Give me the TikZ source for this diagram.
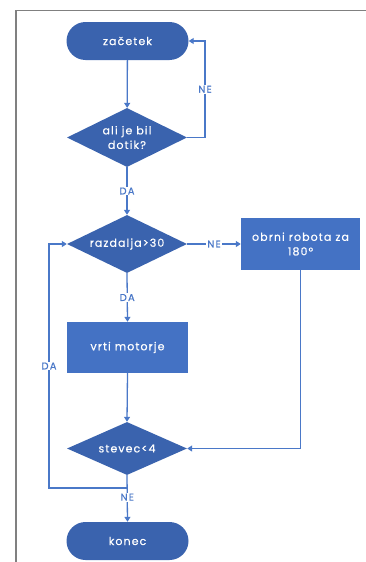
\documentclass[tikz,border=0pt]{standalone}
\usepackage{fontspec}
\setmainfont{Poppins}
\newfontfamily\nodefont{Poppins}[LetterSpace=10, FakeBold=0.4]
\newfontfamily\labfont{Poppins}[LetterSpace=12, FakeBold=0.3]
\usetikzlibrary{shapes.geometric,arrows.meta}
\definecolor{dblue}{HTML}{3A63AE}
\definecolor{lblue}{HTML}{4472C4}
\definecolor{lineblue}{HTML}{4A78C8}
\tikzset{
  term/.style={rectangle, rounded corners=19pt, fill=dblue, text=white, minimum width=122pt, minimum height=38pt, inner sep=0pt, font=\nodefont\fontsize{11}{13}\selectfont},
  dec/.style={diamond, aspect=2, fill=dblue, text=white, inner sep=0pt, align=center, font=\nodefont\fontsize{11}{14.5}\selectfont},
  proc/.style={rectangle, fill=lblue, text=white, inner sep=0pt, align=center, font=\nodefont\fontsize{11}{14.5}\selectfont},
  conn/.style={draw=lineblue, line width=1.3pt, -{Triangle[width=6pt,length=5pt]}},
  plain/.style={draw=lineblue, line width=1.3pt},
  lab/.style={fill=white, text=lineblue, inner sep=1pt, font=\labfont\fontsize{10}{11}\selectfont}
}
\begin{document}
\begin{tikzpicture}[x=1pt,y=-1pt]
\useasboundingbox (0,0) rectangle (366,562);
\draw[gray, line width=1.2pt] (16,562) -- (16,10.5) -- (366,10.5);

\node[term] (start) at (127.5,41) {začetek};
\node[dec, minimum width=120pt, minimum height=59pt] (d1) at (127,137.5) {ali je bil\\dotik?};
\node[dec, minimum width=120pt, minimum height=58pt] (d2) at (127,244) {razdalja>30};
\node[proc, minimum width=119pt, minimum height=52pt] (turn) at (300.5,244) {obrni robota za\\180°};
\node[proc, minimum width=121pt, minimum height=51pt] (motor) at (127.5,347.5) {vrti motorje};
\node[dec, minimum width=120pt, minimum height=53pt] (d3) at (127,448.5) {stevec<4};
\node[term] (end) at (127.5,541) {konec};

\coordinate (ne1) at (205,137.5);
\coordinate (split) at (127,488);
\coordinate (loopc) at (49,488);

\draw[conn] (start) -- (d1);
\draw[conn] (d1.east) -- (ne1) |- (start.east) node[lab, pos=0.25] {NE};
\draw[conn] (d1.south) -- node[lab, pos=0.5] {DA} (d2.north);
\draw[conn] (d2.east) -- node[lab, pos=0.5] {NE} (turn.west);
\draw[conn] (d2.south) -- node[lab, pos=0.5] {DA} (motor.north);
\draw[conn] (motor.south) -- (d3.north);
\draw[conn] (turn.south) |- (d3.east);
\draw[conn] (split) -- (loopc) |- (d2.west) node[lab, pos=0.25] {DA};
\draw[conn] (d3.south) -- node[lab, pos=0.47] {NE} (end.north);
\end{tikzpicture}
\end{document}
